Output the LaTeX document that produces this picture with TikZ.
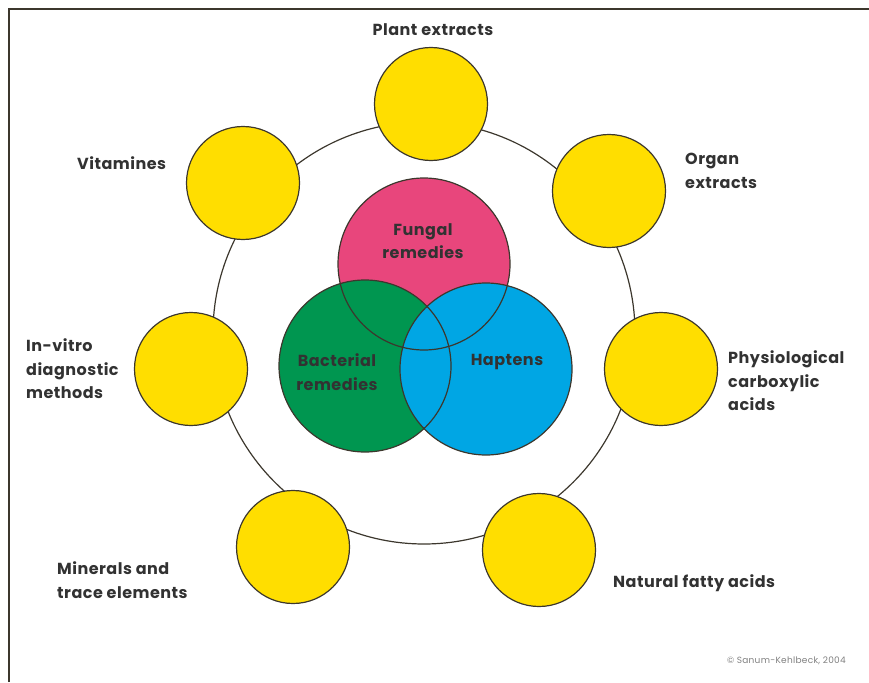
\documentclass[tikz,border=0pt]{standalone}
\usepackage{fontspec}
\setmainfont[LetterSpace=3]{Poppins}

\definecolor{discyellow}{RGB}{255,222,0}
\definecolor{fungalpink}{RGB}{232,70,124}
\definecolor{bactgreen}{RGB}{0,150,80}
\definecolor{haptblue}{RGB}{0,166,228}
\definecolor{edgegray}{RGB}{60,55,45}
\definecolor{textgray}{RGB}{50,50,50}

\begin{document}
\begin{tikzpicture}[x=1pt,y=-1pt,
  disc/.style={circle, draw=edgegray, line width=1.2pt, fill=discyellow, minimum size=113pt, inner sep=0pt},
  venn/.style={circle, minimum size=172pt, inner sep=0pt},
  itemtext/.style={font=\fontsize{16}{23.5}\selectfont\bfseries, text=textgray, align=left, inner sep=0pt}]
\useasboundingbox (0,0) rectangle (869,682);

% centres
\coordinate (M) at (424,333);
\coordinate (P1) at (431,104);
\coordinate (P2) at (609,191);
\coordinate (P3) at (661,369);
\coordinate (P4) at (539,550);
\coordinate (P5) at (293,547);
\coordinate (P6) at (191,369);
\coordinate (P7) at (243,183);

% frame
\draw [edgegray, line width=1.3pt] (9,682) -- (9,9) -- (869,9);

% outer ring
\node [circle, draw=edgegray, line width=1.2pt, minimum size=422pt, inner sep=0pt] (ring) at (M) {};

% yellow discs
\node [disc] (plant) at (P1) {};
\node [disc] (organ) at (P2) {};
\node [disc] (physio) at (P3) {};
\node [disc] (fatty) at (P4) {};
\node [disc] (mineral) at (P5) {};
\node [disc] (invitro) at (P6) {};
\node [disc] (vitamin) at (P7) {};

% venn
\node [venn, fill=fungalpink] (fungal) at (424,264) {};
\node [venn, fill=bactgreen] (bact) at (365,366) {};
\node [venn, fill=haptblue] (hapt) at (486,369) {};
\foreach \v in {fungal,bact,hapt}
  \draw [edgegray, line width=1.2pt] (\v) circle (86);

\node [itemtext, align=center] (fungaltxt) at (423,241) {Fungal\\remedies};
\node [itemtext, align=center] (bacttxt) at (337,372) {Bacterial\\remedies};
\node [itemtext] (hapttxt) at (507,362) {Haptens};

% labels
\node [itemtext, align=center] (plantlbl) at (433,30) {Plant extracts};
\node [itemtext, anchor=west] (organlbl) at (685,171) {Organ\\extracts};
\node [itemtext, anchor=west] (physiolbl) at (728,381) {Physiological\\carboxylic\\acids};
\node [itemtext, anchor=west] (fattylbl) at (613,583) {Natural fatty acids};
\node [itemtext, anchor=west] (minerallbl) at (57,580) {Minerals and\\trace elements};
\node [itemtext, anchor=west] (invitrolbl) at (26,369) {In-vitro\\diagnostic\\methods};
\node [itemtext, anchor=west] (vitaminlbl) at (77,163) {Vitamines};

\node [font=\fontsize{9}{10}\selectfont, text=gray, anchor=east, inner sep=0pt] (copy) at (846,661) {© Sanum-Kehlbeck, 2004};
\end{tikzpicture}
\end{document}
